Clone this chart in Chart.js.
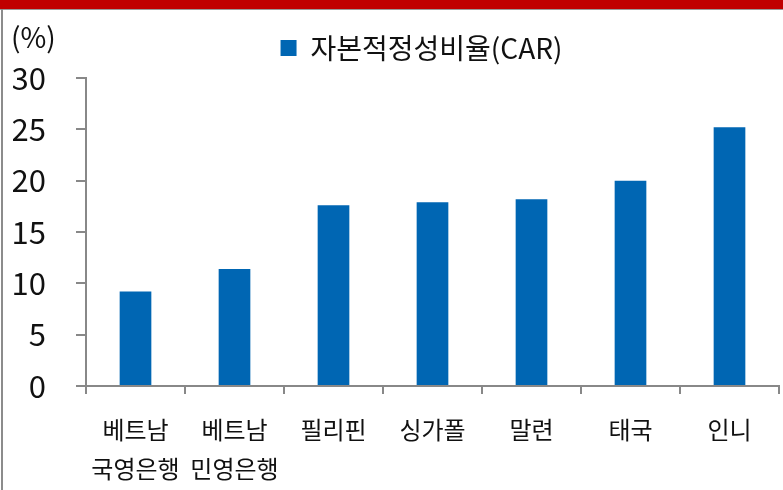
<!DOCTYPE html>
<html>
<head>
<meta charset="utf-8">
<script src="https://cdn.jsdelivr.net/npm/chart.js@4"></script>
<style>
  html, body { margin: 0; padding: 0; background: #fff; }
  body { width: 783px; height: 490px; position: relative; overflow: hidden; }
  #topbar { position: absolute; left: 0; top: 0; width: 783px; height: 9px; background: #C00000; }
  #topline { position: absolute; left: 0; top: 9px; width: 783px; height: 1px; background: #9a9a9a; }
  #leftline { position: absolute; left: 1px; top: 9px; width: 2px; height: 481px; background: #8c8c8c; }
  #wrap { position: absolute; left: 3px; top: 10px; width: 780px; height: 480px; }
</style>
</head>
<body>
<div id="topbar"></div>
<div id="topline"></div>
<div id="leftline"></div>
<div id="wrap"><canvas id="c"></canvas></div>
<script>
const categories = [["베트남", "국영은행"], ["베트남", "민영은행"], "필리핀", "싱가폴", "말련", "태국", "인니"];
const carValues = [9.2, 11.4, 17.6, 17.9, 18.2, 20.0, 25.2];
const seriesName = "자본적정성비율(CAR)";
const unitLabel = "(%)";
const yTicks = [0, 5, 10, 15, 20, 25, 30];

const FONT = "'Noto Sans CJK KR', 'Noto Sans', sans-serif";
const AXIS = "#888888";

const unitPlugin = {
  id: "unitLabel",
  afterLayout(chart) {
    const lg = chart.legend;
    if (lg) {
      lg.left -= 11; lg.right -= 11;
      lg.top -= 6; lg.bottom -= 6;
    }
  },
  afterDraw(chart) {
    const ctx = chart.ctx;
    ctx.save();
    ctx.font = "28px " + FONT;
    ctx.fillStyle = "#111";
    ctx.textBaseline = "middle";
    ctx.textAlign = "left";
    ctx.fillText(unitLabel, 8, 27);
    ctx.restore();
  }
};

new Chart(document.getElementById("c"), {
  type: "bar",
  data: {
    labels: categories,
    datasets: [{
      label: seriesName,
      data: carValues,
      backgroundColor: "#0066B3",
      borderWidth: 0,
      categoryPercentage: 1,
      barPercentage: 0.32
    }]
  },
  options: {
    responsive: true,
    maintainAspectRatio: false,
    animation: false,
    layout: { padding: { left: 10, right: 4, top: 6, bottom: 0 } },
    plugins: {
      legend: {
        display: true,
        position: "top",
        fullSize: false,
        labels: {
          boxWidth: 16,
          boxHeight: 16,
          color: "#111",
          font: { family: FONT, size: 28 },
          padding: 24
        }
      },
      tooltip: { enabled: false }
    },
    scales: {
      x: {
        offset: true,
        afterFit(scale) { scale.height = 104; scale.paddingLeft = 0; scale.paddingRight = 0; },
        grid: {
          display: true,
          drawOnChartArea: false,
          drawTicks: true,
          tickLength: 8,
          color: AXIS,
          lineWidth: 2,
          offset: true
        },
        border: { display: true, color: AXIS, width: 2 },
        ticks: {
          color: "#111",
          font: { family: FONT, size: 24, lineHeight: 1.6 },
          padding: 17,
          maxRotation: 0,
          autoSkip: false
        }
      },
      y: {
        min: 0,
        max: 30,
        afterBuildTicks(scale) { scale.ticks = yTicks.map(v => ({ value: v })); },
        afterFit(scale) { scale.width = 73; },
        grid: {
          display: true,
          drawOnChartArea: false,
          drawTicks: true,
          tickLength: 10,
          color: AXIS,
          lineWidth: 2
        },
        border: { display: true, color: AXIS, width: 2 },
        ticks: {
          color: "#111",
          font: { family: FONT, size: 31 },
          padding: 30
        }
      }
    }
  },
  plugins: [unitPlugin]
});
</script>
</body>
</html>
